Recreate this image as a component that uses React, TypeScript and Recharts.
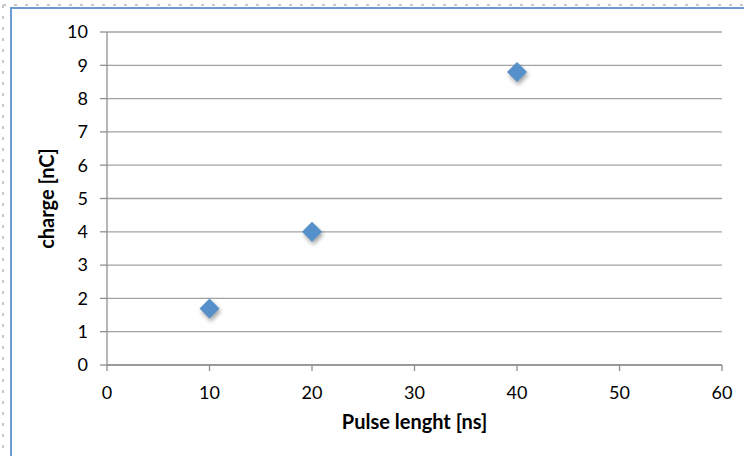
import React from "react";
import {
  ScatterChart,
  Scatter,
  XAxis,
  YAxis,
  CartesianGrid,
  Label,
} from "recharts";

// Measured pulses: pulse length [ns] and collected charge [nC]
const pulseLengths = [10, 20, 40];
const charges = [1.7, 4.0, 8.8];

const xTicks = [0, 10, 20, 30, 40, 50, 60];
const yTicks = [0, 1, 2, 3, 4, 5, 6, 7, 8, 9, 10];

const points = pulseLengths.map((x, i) => ({ x, y: charges[i] }));

const FONT = "Lato, 'Liberation Sans', sans-serif";
const MARKER = "#5690ca";

// Diamond marker with a soft drop shadow
const Diamond = (props: any) => {
  const { cx, cy } = props;
  if (cx == null || cy == null) return null;
  const r = 10;
  const path = (ox: number, oy: number) =>
    `M${cx + ox},${cy + oy - r} L${cx + ox + r},${cy + oy} L${cx + ox},${cy + oy + r} L${cx + ox - r},${cy + oy} Z`;
  return (
    <g>
      <defs>
        <filter id="mk-shadow" x="-50%" y="-50%" width="200%" height="200%">
          <feGaussianBlur stdDeviation="2" />
        </filter>
      </defs>
      <path d={path(1.5, 3)} fill="#000" opacity={0.35} filter="url(#mk-shadow)" />
      <path d={path(0, 0)} fill={MARKER} />
    </g>
  );
};

// Selection frame drawn around the chart area (top and left edges)
const Frame = () => (
  <svg
    width={744}
    height={456}
    style={{ position: "absolute", left: 0, top: 0, pointerEvents: "none" }}
  >
    <line x1={3} y1={5} x2={744} y2={5} stroke="#c8c8c8" strokeWidth={2} strokeDasharray="3 8" />
    <line x1={3} y1={5} x2={3} y2={456} stroke="#c8c8c8" strokeWidth={2} strokeDasharray="3 8" />
    <line x1={10} y1={8} x2={744} y2={8} stroke="#6b9bd2" strokeWidth={2} />
    <line x1={11} y1={7} x2={11} y2={456} stroke="#6b9bd2" strokeWidth={2} />
  </svg>
);

export default function App() {
  return (
    <div
      style={{
        position: "absolute",
        left: 0,
        top: 0,
        width: 744,
        height: 456,
        background: "#fff",
        overflow: "hidden",
      }}
    >
      <div style={{ position: "absolute", left: 0, top: 0 }}>
        <ScatterChart
          width={744}
          height={456}
          margin={{ top: 32, right: 22, left: 0, bottom: 0 }}
        >
          <CartesianGrid
            vertical={false}
            stroke="#a3a3a3"
            strokeWidth={1.3}
          />
          <XAxis
            type="number"
            dataKey="x"
            domain={[0, 60]}
            ticks={xTicks}
            height={91}
            tickSize={6}
            tickMargin={15}
            stroke="#8f8f8f"
            strokeWidth={1.3}
            tick={{ fill: "#000", fontSize: 18, fontFamily: FONT }}
          >
            <Label
              value="Pulse lenght [ns]"
              position="insideTop"
              offset={50}
              style={{ fill: "#000", fontSize: 20, fontWeight: 700, fontFamily: FONT }}
            />
          </XAxis>
          <YAxis
            type="number"
            dataKey="y"
            domain={[0, 10]}
            ticks={yTicks}
            width={107}
            tickSize={7}
            tickMargin={12}
            stroke="#8f8f8f"
            strokeWidth={1.3}
            tick={{ fill: "#000", fontSize: 18, fontFamily: FONT }}
          >
            <Label
              value="charge [nC]"
              angle={-90}
              position="insideLeft"
              offset={47}
              style={{
                fill: "#000",
                fontSize: 20,
                fontWeight: 700,
                fontFamily: FONT,
                textAnchor: "middle",
              }}
            />
          </YAxis>
          <Scatter
            data={points}
            shape={<Diamond />}
            isAnimationActive={false}
          />
        </ScatterChart>
      </div>
      <Frame />
    </div>
  );
}
